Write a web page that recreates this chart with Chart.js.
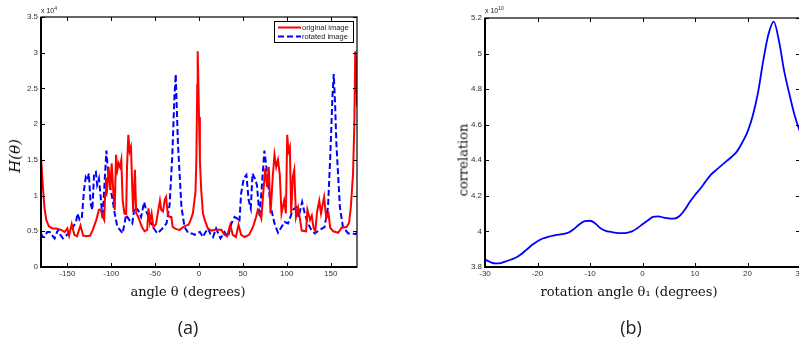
<!DOCTYPE html>
<html>
<head>
<meta charset="utf-8">
<script src="https://cdn.jsdelivr.net/npm/chart.js@4.4.0/dist/chart.umd.min.js"></script>
<style>
  html, body { margin: 0; padding: 0; background: #fff; overflow: hidden; }
  #page { position: relative; width: 799px; height: 343px; overflow: hidden; }
  canvas { position: absolute; top: 0; }
  #chartA { left: 0; }
  #chartB { left: 400px; }
  .lbl { position: absolute; transform: translate(-50%, -50%); white-space: nowrap; color: #111;
         font-family: 'DejaVu Serif', serif; font-size: 13px; }
  .rot { transform: translate(-50%, -50%) rotate(-90deg); }
  .cap { font-family: 'Open Sans', sans-serif; font-size: 18px; color: #222; }
  .mult { position: absolute; font-family: 'Liberation Sans', Arial, sans-serif; font-size: 7px; color: #222; white-space: nowrap; }
  .mult sup { font-size: 5px; }
</style>
</head>
<body>
<div id="page">
  <canvas id="chartA" width="400" height="343"></canvas>
  <canvas id="chartB" width="420" height="343"></canvas>

  <div class="mult" style="left:41px; top:5px;">x 10<sup>4</sup></div>
  <div class="mult" style="left:485px; top:5px;">x 10<sup>10</sup></div>

  <div class="lbl" style="left:188px; top:291px;">angle θ (degrees)</div>
  <div class="lbl rot" style="left:15px; top:156px; font-style:italic; font-size:15px;">H(θ)</div>
  <div class="lbl cap" style="left:188px; top:327px;">(a)</div>

  <div class="lbl" style="left:629px; top:291px;">rotation angle θ₁ (degrees)</div>
  <div class="lbl rot" style="left:463px; top:160px;">correlation</div>
  <div class="lbl cap" style="left:631px; top:327px;">(b)</div>
</div>

<script>
// ---- (a) histogramme H(theta), valeurs en unités de 10^4 ----
const redAngle = [-180, -178, -176, -174, -171, -167, -163, -160, -157, -153, -150, -148, -145, -142, -139, -135, -132, -128, -124, -121,
  -117, -114, -112, -110, -108, -107, -106, -104.5, -103, -101, -99.5, -97.5, -96, -94.5, -93, -91.5, -90, -88.5, -87, -85,
  -83, -82, -80.5, -79, -77.5, -76, -75, -73, -71.5, -70, -68, -65, -62, -59, -57.5, -56, -54, -52, -49, -46,
  -44.5, -43, -41, -39, -37.5, -35.5, -33.5, -31.5, -30, -26, -22, -18, -15, -12, -9.5, -7, -5, -4, -3, -2,
  -1.5, -1, 0, 1, 2.5, 4.5, 6.5, 10, 14, 18, 22, 25.5, 29, 32, 35.5, 38.5, 42, 45, 48, 52,
  57, 61.5, 65, 67, 69, 71, 73.5, 75.5, 77.5, 79.5, 81.5, 84, 86, 88, 90, 92, 94, 97, 99, 100.5,
  102, 103.5, 105, 107, 108.5, 110.5, 113, 117, 122, 123.5, 126.5, 128.5, 130.5, 132.5, 134.5, 137, 139, 142.5, 145, 147.5,
  149.5, 153, 158.5, 162.5, 168, 171, 173, 175.5, 177, 178, 179, 180];
const redH = [1.54, 1.15, 0.82, 0.66, 0.57, 0.54, 0.54, 0.53, 0.52, 0.49, 0.54, 0.44, 0.60, 0.45, 0.43, 0.58, 0.44, 0.43, 0.44, 0.52,
  0.66, 0.80, 0.80, 0.72, 0.66, 1.00, 1.25, 1.12, 1.40, 1.08, 1.45, 1.03, 0.80, 1.57, 1.36, 1.45, 1.40, 1.50, 0.94, 0.75,
  0.74, 1.40, 1.85, 1.62, 1.68, 1.10, 0.77, 1.36, 0.75, 0.72, 0.66, 0.56, 0.50, 0.52, 0.82, 0.63, 0.75, 0.56, 0.60, 0.82,
  0.93, 0.80, 0.78, 0.94, 0.98, 0.73, 0.70, 0.70, 0.56, 0.53, 0.52, 0.56, 0.58, 0.59, 0.66, 0.75, 0.95, 1.05, 1.50, 2.55,
  3.02, 2.75, 2.10, 1.50, 1.08, 0.75, 0.66, 0.54, 0.51, 0.52, 0.52, 0.52, 0.45, 0.43, 0.59, 0.45, 0.42, 0.59, 0.45, 0.42,
  0.45, 0.56, 0.70, 0.80, 0.76, 0.68, 1.08, 1.38, 1.12, 1.40, 0.75, 1.26, 1.57, 1.40, 1.50, 1.30, 0.75, 0.93, 0.75, 1.85,
  1.62, 1.68, 0.75, 1.27, 1.36, 0.70, 0.83, 0.51, 0.50, 0.80, 0.66, 0.72, 0.55, 0.50, 0.77, 0.93, 0.75, 0.98, 0.68, 0.75,
  0.55, 0.50, 0.48, 0.55, 0.56, 0.62, 0.84, 1.31, 2.01, 3.02, 2.90, 2.25];

const blueAngle = [-180, -178, -176, -173, -170, -167, -164.5, -162, -160.5, -158, -155, -152, -149, -146, -143.5, -140, -138.5, -136, -133.5, -131,
  -129, -127, -125.5, -123.5, -121.5, -119.5, -117.5, -116, -114, -112, -110, -108.5, -105.5, -104, -102, -99, -96, -93, -90, -87,
  -83, -79, -76, -73.5, -69.5, -66, -62.5, -60, -56, -52.5, -47.5, -43, -37, -33.5, -30.5, -28, -26.5, -25.5, -24, -20,
  -16.5, -12, -8, -5, -2, 1, 4.5, 7, 10.5, 13, 16, 19.5, 22, 24.5, 27, 29, 33, 37, 40.5, 43.5,
  46, 48, 51, 54, 56.5, 59, 61, 63.5, 66, 69, 71, 74.5, 76.5, 79.5, 82.5, 86, 90, 94, 97.5, 101.5,
  107, 111, 113.5, 117.5, 120.5, 124, 128, 132, 137.5, 143, 147, 149.5, 152, 153.5, 155, 156.5, 160.5, 164, 170, 175,
  178, 180];
const blueH = [0.47, 0.42, 0.42, 0.49, 0.49, 0.44, 0.40, 0.48, 0.52, 0.45, 0.40, 0.43, 0.47, 0.52, 0.56, 0.63, 0.75, 0.66, 0.68, 1.08,
  1.26, 1.22, 1.31, 0.89, 0.80, 1.31, 1.33, 1.15, 1.24, 0.98, 0.68, 0.98, 1.63, 1.40, 1.17, 0.98, 0.75, 0.56, 0.52, 0.47,
  0.73, 0.65, 0.61, 0.84, 0.80, 0.70, 0.91, 0.78, 0.65, 0.56, 0.47, 0.52, 0.61, 0.87, 1.54, 2.38, 2.70, 2.30, 1.73, 0.84,
  0.56, 0.47, 0.47, 0.45, 0.48, 0.49, 0.42, 0.48, 0.54, 0.46, 0.42, 0.54, 0.47, 0.40, 0.45, 0.49, 0.42, 0.61, 0.70, 0.68,
  0.63, 1.03, 1.24, 1.29, 0.94, 0.82, 1.31, 1.24, 1.15, 0.70, 1.03, 1.63, 1.43, 1.08, 0.80, 0.61, 0.48, 0.56, 0.63, 0.61,
  0.80, 0.84, 0.70, 0.91, 0.75, 0.61, 0.52, 0.47, 0.52, 0.56, 0.84, 1.54, 2.38, 2.70, 2.30, 1.73, 0.84, 0.56, 0.47, 0.47,
  0.46, 0.48];

const xTicksA = [-150, -100, -50, 0, 50, 100, 150];
const yTicksA = [0, 0.5, 1, 1.5, 2, 2.5, 3, 3.5];

// ---- (b) corrélation, valeurs en unités de 10^10 ----
const rotAngle = [-30, -29, -28, -27, -26, -25, -24, -23, -22, -21, -20, -19, -18, -17, -16, -15, -14, -13, -12, -11,
  -10, -9, -8, -7, -6, -5, -4, -3, -2, -1, 0, 1, 2, 3, 4, 5, 6, 7, 8, 9,
  10, 11, 12, 13, 14, 15, 16, 17, 18, 19, 20, 21, 22, 23, 24, 25, 26, 27, 28, 29, 30];
const correlation = [3.842, 3.828, 3.820, 3.822, 3.832, 3.842, 3.855, 3.875, 3.900, 3.925, 3.945, 3.960, 3.970, 3.977, 3.982, 3.986, 3.995, 4.015, 4.040, 4.058,
  4.060, 4.045, 4.018, 4.003, 3.997, 3.992, 3.990, 3.992, 4.000, 4.018, 4.040, 4.062, 4.082, 4.085, 4.078, 4.073, 4.072, 4.085, 4.120, 4.165,
  4.205, 4.240, 4.280, 4.318, 4.345, 4.370, 4.395, 4.420, 4.450, 4.500, 4.560, 4.650, 4.780, 4.960, 5.110, 5.180, 5.070, 4.900, 4.770, 4.650, 4.560];

const xTicksB = [-30, -20, -10, 0, 10, 20, 30];
const yTicksB = [3.8, 4, 4.2, 4.4, 4.6, 4.8, 5, 5.2];

// Cadre type MATLAB : boîte, graduations vers l'intérieur, légende dans le coin
const matlabAxes = {
  id: 'matlabAxes',
  afterDatasetsDraw(chart, args, opts) {
    const { ctx, chartArea: a, scales: { x, y } } = chart;
    const tl = 4;
    ctx.save();
    ctx.strokeStyle = '#000';
    ctx.lineWidth = 1;
    ctx.beginPath();
    x.ticks.forEach(t => {
      const px = Math.round(x.getPixelForValue(t.value)) + 0.5;
      ctx.moveTo(px, a.bottom); ctx.lineTo(px, a.bottom - tl);
      ctx.moveTo(px, a.top); ctx.lineTo(px, a.top + tl);
    });
    y.ticks.forEach(t => {
      const py = Math.round(y.getPixelForValue(t.value)) + 0.5;
      ctx.moveTo(a.left, py); ctx.lineTo(a.left + tl, py);
      ctx.moveTo(a.right, py); ctx.lineTo(a.right - tl, py);
    });
    ctx.stroke();

    ctx.lineWidth = 1.2;
    ctx.strokeRect(a.left, a.top, a.right - a.left, a.bottom - a.top);
    ctx.lineWidth = 2;
    ctx.beginPath();
    ctx.moveTo(a.left, a.top);
    ctx.lineTo(a.left, a.bottom);
    ctx.lineTo(a.right, a.bottom);
    ctx.stroke();

    if (opts.legend) {
      const w = 79, h = 21;
      const lx = a.right - 4 - w, ly = a.top + 4;
      ctx.fillStyle = '#fff';
      ctx.fillRect(lx, ly, w, h);
      ctx.lineWidth = 1;
      ctx.strokeRect(lx + 0.5, ly + 0.5, w, h);
      ctx.font = '7.5px "Liberation Sans", Arial, sans-serif';
      ctx.textBaseline = 'middle';
      chart.data.datasets.forEach((ds, i) => {
        const rowY = ly + 6.5 + i * 9;
        ctx.strokeStyle = ds.borderColor;
        ctx.lineWidth = ds.borderWidth;
        ctx.setLineDash(ds.borderDash || []);
        ctx.beginPath();
        ctx.moveTo(lx + 4, rowY);
        ctx.lineTo(lx + 27, rowY);
        ctx.stroke();
        ctx.setLineDash([]);
        ctx.fillStyle = '#222';
        ctx.fillText(ds.label, lx + 28, rowY);
      });
    }
    ctx.restore();
  }
};

const tickFont = { family: '"Liberation Sans", Arial, sans-serif', size: 8 };
const fmt = v => String(Number(v.toFixed(1)));

function axisX(min, max, ticks, height) {
  return {
    type: 'linear', min: min, max: max,
    grid: { display: false, drawTicks: false },
    border: { display: false },
    afterBuildTicks: s => { s.ticks = ticks.map(v => ({ value: v })); },
    afterFit: s => { s.height = height; },
    ticks: { font: tickFont, color: '#333', padding: 2, maxRotation: 0, autoSkip: false, callback: fmt }
  };
}

function axisY(min, max, ticks, width) {
  return {
    type: 'linear', min: min, max: max,
    grid: { display: false, drawTicks: false },
    border: { display: false },
    afterBuildTicks: s => { s.ticks = ticks.map(v => ({ value: v })); },
    afterFit: s => { s.width = width; },
    ticks: { font: tickFont, color: '#333', padding: 3, autoSkip: false, callback: fmt }
  };
}

new Chart(document.getElementById('chartA'), {
  type: 'line',
  data: {
    datasets: [{
      label: 'original image',
      data: redAngle.map((a, i) => ({ x: a, y: redH[i] })),
      borderColor: '#ff0000',
      borderWidth: 2,
      pointRadius: 0,
      tension: 0
    }, {
      label: 'rotated image',
      data: blueAngle.map((a, i) => ({ x: a, y: blueH[i] })),
      borderColor: '#0000ff',
      borderWidth: 2,
      borderDash: [6, 3],
      pointRadius: 0,
      tension: 0
    }]
  },
  options: {
    responsive: false,
    animation: false,
    layout: { padding: { top: 17, right: 43, left: 0, bottom: 0 } },
    plugins: { legend: { display: false }, tooltip: { enabled: false }, matlabAxes: { legend: true } },
    scales: { x: axisX(-180, 180, xTicksA, 76), y: axisY(0, 3.5, yTicksA, 41) }
  },
  plugins: [matlabAxes]
});

new Chart(document.getElementById('chartB'), {
  type: 'line',
  data: {
    datasets: [{
      label: 'correlation',
      data: rotAngle.map((a, i) => ({ x: a, y: correlation[i] })),
      borderColor: '#0000ff',
      borderWidth: 1.8,
      pointRadius: 0,
      cubicInterpolationMode: 'monotone'
    }]
  },
  options: {
    responsive: false,
    animation: false,
    layout: { padding: { top: 18, right: 20, left: 0, bottom: 0 } },
    plugins: { legend: { display: false }, tooltip: { enabled: false }, matlabAxes: { legend: false } },
    scales: { x: axisX(-30, 30, xTicksB, 76), y: axisY(3.8, 5.2, yTicksB, 85) }
  },
  plugins: [matlabAxes]
});
</script>
</body>
</html>
